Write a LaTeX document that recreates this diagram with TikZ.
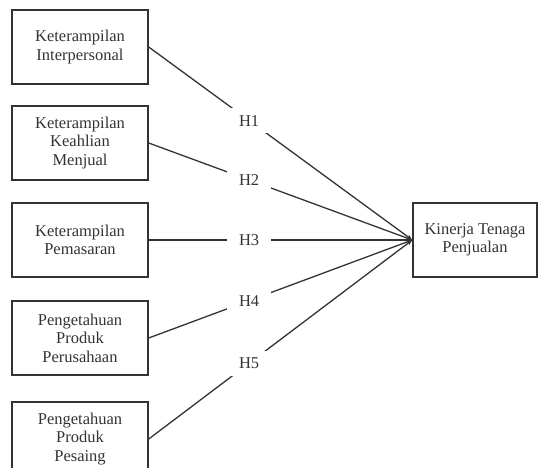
\documentclass[tikz,border=0pt]{standalone}
\usepackage{fontspec}
\setmainfont{Liberation Serif}
\usetikzlibrary{arrows.meta}
\definecolor{ink}{HTML}{333333}
\begin{document}
\begin{tikzpicture}[x=1pt,y=-1pt,
  box/.style={draw=ink,line width=1.4pt,minimum width=136pt,minimum height=74pt,align=center,inner sep=0pt,
    font=\fontsize{16.5}{18.5}\selectfont,text=ink},
  rbox/.style={box,minimum width=124pt},
  conn/.style={draw=ink,line width=1.3pt,-{Stealth[length=6pt,width=4.5pt]}},
  lbl/.style={fill=white,inner xsep=12pt,inner ysep=7pt,text height=11pt,text depth=0pt,
    font=\fontsize{16.5}{18.5}\selectfont,text=ink,pos=0.381}]
\useasboundingbox (0,0) rectangle (538,468);
\clip (0,0) rectangle (538,468);
\node[box] (a) at (80,47) {Keterampilan\\Interpersonal};
\node[box] (b) at (80,143) {Keterampilan\\Keahlian\\Menjual};
\node[box] (c) at (80,240) {Keterampilan\\Pemasaran};
\node[box] (d) at (80,338) {Pengetahuan\\Produk\\Perusahaan};
\node[box] (e) at (80,439) {Pengetahuan\\Produk\\Pesaing};
\node[rbox] (k) at (475,240) {Kinerja Tenaga\\Penjualan};
\draw[conn] (a.east) -- node[lbl] {H1} (k.west);
\draw[conn] (b.east) -- node[lbl] {H2} (k.west);
\draw[conn] (c.east) -- node[lbl] {H3} (k.west);
\draw[conn] (d.east) -- node[lbl] {H4} (k.west);
\draw[conn] (e.east) -- node[lbl] {H5} (k.west);
\end{tikzpicture}
\end{document}
